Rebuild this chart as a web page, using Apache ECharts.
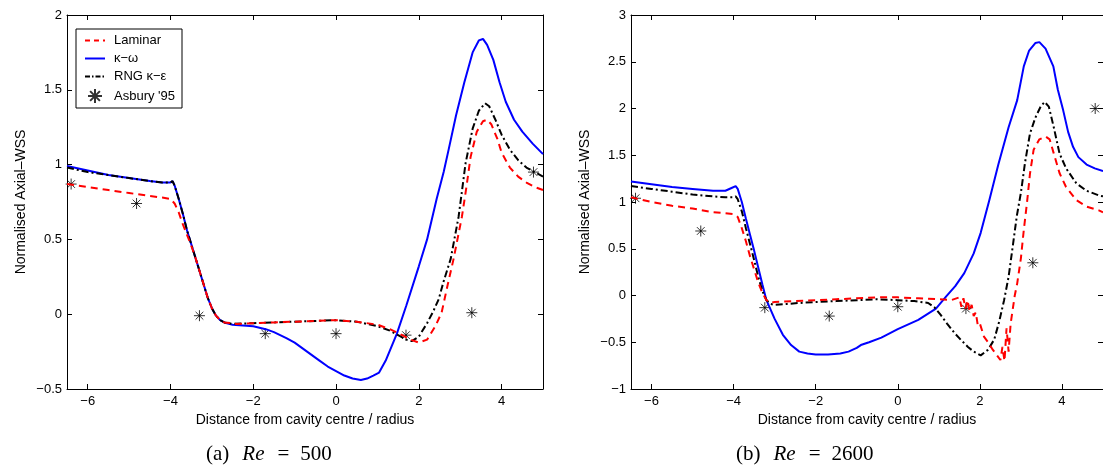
<!DOCTYPE html>
<html>
<head>
<meta charset="utf-8">
<script src="https://cdn.jsdelivr.net/npm/echarts@6/dist/echarts.min.js"></script>
<style>
html,body{margin:0;padding:0;background:#fff;}
#chart{width:1103px;height:476px;}
</style>
</head>
<body>
<div id="chart"></div>
<script>
// ---------- tick labels ----------
const xTicks = [-6, -4, -2, 0, 2, 4];
const legendNames = ['Laminar', 'κ−ω', 'RNG κ−ε', "Asbury '95"];
const captions = ['(a)', '(b)'];
const reValues = ['500', '2600'];

// ---------- Panel (a): Re = 500 ----------
const aLamX = [-6.5,-6.0,-5.5,-5.0,-4.5,-4.2,-4.0,-3.9,-3.8,-3.7,-3.6,-3.5,-3.4,-3.3,-3.2,-3.1,-3.0,-2.9,-2.8,-2.7,-2.4,-2.0,-1.5,-1.0,-0.5,0.0,0.5,1.0,1.3,1.6,1.8,2.0,2.2,2.4,2.55,2.7,2.84,3.04,3.15,3.25,3.4,3.55,3.65,3.75,3.9,4.0,4.2,4.4,4.6,4.8,5.0];
const aLamY = [0.87,0.85,0.83,0.81,0.79,0.78,0.77,0.74,0.68,0.60,0.53,0.46,0.38,0.29,0.20,0.11,0.04,-0.01,-0.04,-0.055,-0.065,-0.06,-0.055,-0.05,-0.045,-0.04,-0.05,-0.07,-0.10,-0.14,-0.17,-0.19,-0.17,-0.08,0.01,0.20,0.37,0.65,0.85,1.05,1.22,1.29,1.30,1.27,1.17,1.08,0.98,0.92,0.88,0.85,0.83];

const aKwX = [-6.5,-6.0,-5.5,-5.0,-4.5,-4.2,-4.0,-3.95,-3.9,-3.8,-3.7,-3.6,-3.5,-3.4,-3.3,-3.2,-3.1,-3.0,-2.9,-2.8,-2.7,-2.5,-2.0,-1.7,-1.5,-1.2,-1.0,-0.7,-0.4,-0.2,0.0,0.2,0.4,0.6,0.75,0.9,1.04,1.2,1.47,1.7,2.0,2.2,2.43,2.6,2.72,2.9,3.1,3.3,3.45,3.55,3.65,3.8,3.95,4.1,4.3,4.5,4.75,5.0];
const aKwY = [0.99,0.96,0.93,0.91,0.89,0.88,0.88,0.89,0.86,0.77,0.67,0.56,0.47,0.38,0.29,0.20,0.11,0.04,-0.01,-0.04,-0.055,-0.07,-0.08,-0.10,-0.12,-0.16,-0.19,-0.25,-0.31,-0.35,-0.38,-0.41,-0.43,-0.44,-0.43,-0.41,-0.39,-0.31,-0.13,0.06,0.32,0.50,0.77,0.95,1.10,1.33,1.55,1.75,1.83,1.84,1.80,1.70,1.55,1.42,1.30,1.22,1.14,1.07];

const aRngX = [-6.5,-6.0,-5.5,-5.0,-4.5,-4.2,-4.0,-3.95,-3.9,-3.8,-3.7,-3.6,-3.5,-3.4,-3.3,-3.2,-3.1,-3.0,-2.9,-2.8,-2.7,-2.5,-2.0,-1.5,-1.0,-0.5,0.0,0.5,1.0,1.3,1.5,1.7,1.83,2.0,2.2,2.35,2.48,2.6,2.77,2.96,3.13,3.3,3.45,3.6,3.7,3.85,4.0,4.2,4.4,4.6,4.8,5.0];
const aRngY = [0.98,0.95,0.93,0.91,0.89,0.88,0.88,0.89,0.86,0.77,0.67,0.56,0.47,0.38,0.29,0.20,0.11,0.04,-0.01,-0.04,-0.055,-0.065,-0.06,-0.055,-0.05,-0.045,-0.04,-0.05,-0.08,-0.11,-0.14,-0.17,-0.18,-0.15,-0.06,0.02,0.10,0.22,0.37,0.65,1.01,1.24,1.36,1.41,1.39,1.30,1.20,1.10,1.03,0.98,0.95,0.92];

const aExpX = [-6.4,-4.82,-3.3,-1.71,0.0,1.69,3.28,4.77];
const aExpY = [0.87,0.74,-0.01,-0.13,-0.13,-0.14,0.01,0.95];

// ---------- Panel (b): Re = 2600 ----------
const bLamX = [-6.5,-6.0,-5.5,-5.0,-4.5,-4.2,-4.0,-3.9,-3.8,-3.7,-3.6,-3.5,-3.4,-3.3,-3.2,-3.1,-3.0,-2.5,-2.0,-1.5,-1.0,-0.5,0.0,0.5,1.0,1.3,1.5,1.55,1.6,1.65,1.7,1.75,1.8,1.85,1.9,1.95,2.0,2.1,2.2,2.3,2.4,2.5,2.55,2.6,2.65,2.7,2.75,2.8,2.85,2.91,3.0,3.07,3.15,3.22,3.31,3.45,3.6,3.7,3.8,3.94,4.1,4.35,4.6,4.9,5.0];
const bLamY = [1.05,1.00,0.96,0.93,0.89,0.88,0.87,0.84,0.72,0.58,0.42,0.28,0.14,0.03,-0.05,-0.08,-0.07,-0.06,-0.05,-0.04,-0.03,-0.02,-0.02,-0.03,-0.04,-0.05,-0.02,-0.12,-0.03,-0.14,-0.05,-0.17,-0.10,-0.22,-0.18,-0.32,-0.30,-0.44,-0.50,-0.57,-0.63,-0.69,-0.55,-0.70,-0.35,-0.60,-0.30,-0.15,0.00,0.13,0.40,0.70,1.00,1.30,1.56,1.67,1.70,1.67,1.52,1.31,1.16,1.02,0.95,0.91,0.89];

const bKwX = [-6.5,-6.0,-5.5,-5.0,-4.5,-4.2,-4.05,-3.95,-3.9,-3.8,-3.7,-3.6,-3.5,-3.4,-3.3,-3.2,-3.0,-2.8,-2.6,-2.4,-2.2,-2.0,-1.7,-1.4,-1.2,-1.0,-0.9,-0.7,-0.4,0.0,0.5,0.93,1.18,1.4,1.62,1.85,2.02,2.23,2.45,2.7,2.91,3.07,3.2,3.35,3.45,3.6,3.79,3.9,4.03,4.15,4.27,4.4,4.6,4.8,5.0];
const bKwY = [1.22,1.19,1.16,1.14,1.12,1.12,1.15,1.17,1.14,1.00,0.82,0.65,0.48,0.30,0.12,-0.05,-0.25,-0.42,-0.53,-0.60,-0.62,-0.63,-0.63,-0.62,-0.60,-0.56,-0.53,-0.50,-0.45,-0.36,-0.26,-0.14,-0.01,0.10,0.24,0.45,0.67,1.02,1.40,1.80,2.09,2.45,2.62,2.70,2.71,2.64,2.45,2.20,1.98,1.75,1.59,1.48,1.40,1.36,1.33];

const bRngX = [-6.5,-6.0,-5.5,-5.0,-4.5,-4.2,-4.0,-3.95,-3.9,-3.8,-3.7,-3.6,-3.5,-3.4,-3.3,-3.2,-3.1,-3.0,-2.7,-2.4,-2.0,-1.5,-1.0,-0.5,0.0,0.4,0.74,0.9,1.05,1.2,1.38,1.55,1.71,1.85,2.02,2.2,2.35,2.47,2.59,2.7,2.79,2.9,3.0,3.1,3.22,3.35,3.48,3.58,3.68,3.8,3.94,4.1,4.35,4.6,4.9,5.0];
const bRngY = [1.17,1.14,1.11,1.08,1.06,1.05,1.05,1.06,1.03,0.90,0.72,0.55,0.38,0.20,0.05,-0.05,-0.09,-0.10,-0.09,-0.08,-0.07,-0.06,-0.05,-0.04,-0.05,-0.06,-0.08,-0.13,-0.21,-0.30,-0.40,-0.48,-0.55,-0.60,-0.64,-0.58,-0.47,-0.28,-0.05,0.20,0.49,0.85,1.10,1.42,1.73,1.90,2.02,2.07,2.02,1.80,1.52,1.36,1.20,1.12,1.07,1.06];

const bExpX = [-6.39,-4.8,-3.24,-1.67,0.0,1.66,3.29,4.81];
const bExpY = [1.04,0.69,-0.13,-0.22,-0.12,-0.14,0.35,2.00];

// ---------- helpers ----------
const pairs = (xs, ys) => xs.map((x, i) => [x, ys[i]]);
const fmt = v => String(v).replace('-', '\u2212');
const FONT = 'Liberation Sans, Arial, Helvetica, sans-serif';
const starPath = 'path://M5 0L5 10M0 5L10 5M1.5 1.5L8.5 8.5M8.5 1.5L1.5 8.5';

const COLORS = {lam: '#ff0000', kw: '#0000ff', rng: '#000000'};
const DASH = {lam: [7, 5], rng: [7, 3, 2, 3]};

const grids = [
  {left: 67, top: 15, width: 476, height: 374},
  {left: 631, top: 15, width: 476, height: 374}
];
const yRanges = [[-0.5, 2], [-1, 3]];

const xAxes = [], yAxes = [];
[0, 1].forEach(g => {
  xAxes.push({
    gridIndex: g, type: 'value', min: -6.5, max: 5, splitNumber: 6, position: 'bottom',
    splitLine: {show: false},
    axisLine: {onZero: false, lineStyle: {color: '#000', width: 1}},
    axisTick: {inside: true, length: 5, lineStyle: {color: '#000'}},
    axisLabel: {color: '#000', fontSize: 13, fontFamily: FONT, margin: 6,
      showMinLabel: false, showMaxLabel: false,
      formatter: v => xTicks.includes(v) ? fmt(v) : ''},
    name: 'Distance from cavity centre / radius', nameLocation: 'middle', nameGap: 24,
    nameTextStyle: {color: '#000', fontSize: 14, fontFamily: FONT}
  });
  xAxes.push({
    gridIndex: g, type: 'value', min: -6.5, max: 5, splitNumber: 6, position: 'top',
    splitLine: {show: false},
    axisLine: {onZero: false, lineStyle: {color: '#000', width: 1}},
    axisTick: {inside: true, length: 5, lineStyle: {color: '#000'}},
    axisLabel: {show: false}
  });
  yAxes.push({
    gridIndex: g, type: 'value', min: yRanges[g][0], max: yRanges[g][1], interval: 0.5, position: 'left',
    splitLine: {show: false},
    axisLine: {onZero: false, lineStyle: {color: '#000', width: 1}},
    axisTick: {inside: true, length: 5, lineStyle: {color: '#000'}},
    axisLabel: {color: '#000', fontSize: 13, fontFamily: FONT, margin: 5, formatter: v => fmt(v)},
    name: 'Normalised Axial\u2013WSS', nameLocation: 'middle', nameGap: 39,
    nameTextStyle: {color: '#000', fontSize: 14, fontFamily: FONT}
  });
  yAxes.push({
    gridIndex: g, type: 'value', min: yRanges[g][0], max: yRanges[g][1], interval: 0.5, position: 'right',
    splitLine: {show: false},
    axisLine: {onZero: false, lineStyle: {color: '#000', width: 1}},
    axisTick: {inside: true, length: 5, lineStyle: {color: '#000'}},
    axisLabel: {show: false}
  });
});

function lineSeries(name, g, data, color, type, width) {
  return {
    name, type: 'line', xAxisIndex: g * 2, yAxisIndex: g * 2, data,
    symbol: 'none', smooth: false, animation: false,
    lineStyle: {color, width, type}, itemStyle: {color}
  };
}
function expSeries(g, data) {
  return {
    name: legendNames[3], type: 'scatter', xAxisIndex: g * 2, yAxisIndex: g * 2, data,
    symbol: starPath, symbolSize: 11, animation: false,
    itemStyle: {color: 'rgba(0,0,0,0)', borderColor: '#000', borderWidth: 1}
  };
}

const series = [
  lineSeries(legendNames[1], 0, pairs(aKwX, aKwY), COLORS.kw, 'solid', 2),
  lineSeries(legendNames[2], 0, pairs(aRngX, aRngY), COLORS.rng, DASH.rng, 2),
  lineSeries(legendNames[0], 0, pairs(aLamX, aLamY), COLORS.lam, DASH.lam, 2),
  expSeries(0, pairs(aExpX, aExpY)),
  lineSeries(legendNames[1], 1, pairs(bKwX, bKwY), COLORS.kw, 'solid', 2),
  lineSeries(legendNames[2], 1, pairs(bRngX, bRngY), COLORS.rng, DASH.rng, 2),
  lineSeries(legendNames[0], 1, pairs(bLamX, bLamY), COLORS.lam, DASH.lam, 2),
  expSeries(1, pairs(bExpX, bExpY))
];

const serif = 'Liberation Serif, Times New Roman, serif';
const capStyle = {
  a: {fontFamily: serif, fontSize: 21, color: '#000', padding: [0, 13, 0, 0]},
  i: {fontFamily: serif, fontSize: 21, fontStyle: 'italic', color: '#000', padding: [0, 13, 0, 0]},
  e: {fontFamily: serif, fontSize: 21, color: '#000', padding: [0, 11, 0, 0]},
  n: {fontFamily: serif, fontSize: 21, color: '#000'}
};
const captionLeft = [206, 736];
const graphic = [0, 1].map(g => ({
  type: 'text', left: captionLeft[g], top: 444,
  style: {
    text: '{a|' + captions[g] + '}{i|Re}{e|=}{n|' + reValues[g] + '}',
    rich: capStyle, fill: '#000', font: '21px Liberation Serif'
  }
}));

const legendData = [
  {name: legendNames[0], itemStyle: {opacity: 0}, lineStyle: {color: COLORS.lam, width: 2, type: [5, 4]}},
  {name: legendNames[1], itemStyle: {opacity: 0}, lineStyle: {color: COLORS.kw, width: 2, type: 'solid'}},
  {name: legendNames[2], itemStyle: {opacity: 0}, lineStyle: {color: COLORS.rng, width: 2, type: [5, 2, 1.5, 2]}},
  {name: legendNames[3]}
];

const chart = echarts.init(document.getElementById('chart'), null, {renderer: 'canvas'});
chart.setOption({
  animation: false,
  backgroundColor: '#fff',
  grid: grids,
  xAxis: xAxes,
  yAxis: yAxes,
  legend: {
    left: 76, top: 29, orient: 'vertical', backgroundColor: '#fff',
    borderColor: '#000', borderWidth: 1, borderRadius: 0,
    padding: [5, 7, 4, 8], itemGap: 5, itemWidth: 20, itemHeight: 14,
    textStyle: {fontSize: 13, color: '#000', fontFamily: FONT, padding: [0, 0, 0, 4]},
    selectedMode: false,
    data: legendData
  },
  series,
  graphic
});
</script>
</body>
</html>
